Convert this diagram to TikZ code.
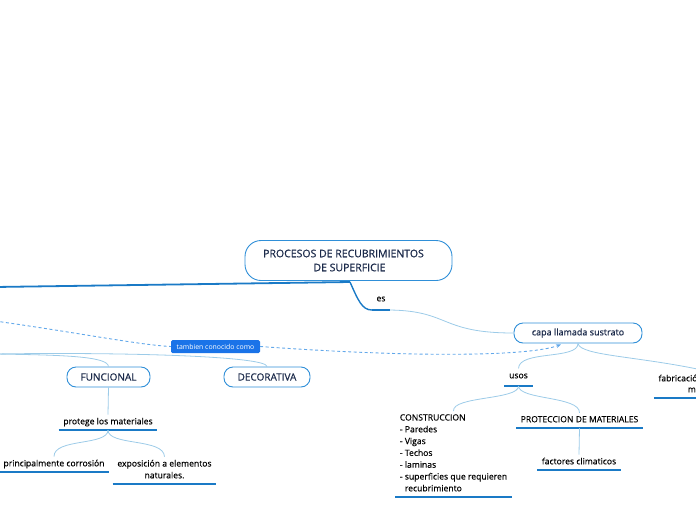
\documentclass[tikz,border=0pt]{standalone}
\usepackage{fontspec}
\setmainfont{Open Sans}
\newfontfamily\semifont[FakeBold=0.6]{Open Sans}
\newfontfamily\labfont[FakeBold=0.25]{Open Sans}
\usetikzlibrary{arrows.meta}
\definecolor{bord}{HTML}{2F8FD8}
\definecolor{conn}{HTML}{9CCBE8}
\definecolor{ulc}{HTML}{1A7AC6}
\definecolor{navy}{HTML}{1B2A4A}
\definecolor{lblue}{HTML}{1A73E8}
\definecolor{dashc}{HTML}{62A8EA}
\tikzset{
  mainbox/.style={draw=bord, line width=0.9pt, rounded corners=9pt, fill=white, text=navy, font=\semifont\fontsize{9}{10}\selectfont, inner sep=0pt, minimum height=20pt},
  upbox/.style={mainbox, font=\semifont\fontsize{10}{11}\selectfont},
  rootbox/.style={draw=bord, line width=0.9pt, rounded corners=16pt, fill=white, text=navy, font=\semifont\fontsize{10.5}{14}\selectfont, align=center, inner sep=0pt, minimum width=207pt, minimum height=40pt},
  plainlab/.style={text=black, font=\labfont\fontsize{8.6}{11.8}\selectfont, inner xsep=4.5pt, inner ysep=3pt, text depth=2.5pt, anchor=south},
  ul/.style={draw=ulc, line width=1.5pt},
  conline/.style={draw=conn, line width=0.8pt},
  thickline/.style={draw=ulc, line width=1.8pt},
  dashline/.style={draw=dashc, line width=0.9pt, dash pattern=on 3pt off 2.5pt},
  tagbox/.style={fill=lblue, text=white, rounded corners=1.5pt, font=\fontsize{6.9}{8}\selectfont, inner xsep=3pt, inner ysep=2pt, minimum height=13pt, minimum width=89pt}
}
\begin{document}
\begin{tikzpicture}[x=1pt,y=-1pt]
\useasboundingbox (0,0) rectangle (696,520);
% root
\coordinate (rj) at (350,282);
\coordinate (lft) at (-5,287);
\draw[thickline] (rj) -- (lft);
\node[rootbox] (root) at (348.5,260.5) {PROCESOS DE RECUBRIMIENTOS\hspace*{10pt}\\\hspace*{2pt}DE SUPERFICIE};
% es
\node[plainlab, inner ysep=6pt] (es) at (381,310) {es};
\draw[ul] (es.south west) -- (es.south east);
\draw[thickline, line width=1.4pt] (rj) .. controls (358,300) and (362,310) .. (es.south west);
% capa
\node[mainbox, minimum width=128pt] (capa) at (578,333) {capa llamada sustrato};
\draw[conline] (es.south east) .. controls (450,311) and (440,333) .. (capa.west);
% usos
\node[plainlab, inner ysep=5pt] (usos) at (518.5,386) {usos};
\draw[ul] (usos.south west) -- (usos.south east);
\draw[conline] (capa.south) .. controls (578,360) and (519,350) .. (usos.north);
% fabricacion
\node[plainlab, align=center, font=\labfont\fontsize{8.6}{11}\selectfont] (fab) at (709,398) {fabricación de elementos\\materiales};
\draw[ul] (fab.south west) -- (fab.south east);
\draw[conline] (capa.south) .. controls (580,356) and (640,356) .. (fab.north);
% construccion
\node[plainlab, align=left] (cons) at (453.5,497) {CONSTRUCCION\\- Paredes\\- Vigas\\- Techos\\- laminas\\- superficies que requieren\\\hspace*{5pt}recubrimiento};
\draw[ul] (cons.south west) -- (cons.south east);
\node[plainlab] (prot) at (579.5,428) {PROTECCION DE MATERIALES};
\draw[ul] (prot.south west) -- (prot.south east);
\draw[conline] (usos.south) .. controls (519,400) and (452,396) .. (cons.north);
\draw[conline] (usos.south) .. controls (519,400) and (580,396) .. (prot.north);
\node[plainlab] (fact) at (579,470) {factores climaticos};
\draw[ul] (fact.south west) -- (fact.south east);
\draw[conline] (prot.south) -- (fact.north);
% dashed relation
\coordinate (dq) at (-5,321);
\node[tagbox] (tag) at (215.5,346.5) {tambien conocido como};
\draw[dashline] (dq) .. controls (80,333) and (140,345) .. (tag.west);
\draw[dashline, -{Stealth[length=5pt,width=4pt]}] (tag.east) .. controls (420,358) and (530,356) .. ([xshift=-17pt,yshift=-1pt]capa.south);
% left branch
\coordinate (lp) at (-5,354);
\node[upbox, minimum width=83pt] (func) at (108.5,377) {FUNCIONAL};
\node[upbox, minimum width=86pt] (deco) at (267,377) {DECORATIVA};
\draw[conline] (lp) .. controls (60,355) and (108,356) .. (func.north);
\draw[conline] (lp) .. controls (120,352) and (267,356) .. (deco.north);
\node[plainlab] (prot2) at (108,430) {protege los materiales};
\draw[ul] (prot2.south west) -- (prot2.south east);
\draw[conline] (func.south) -- (prot2.north);
\node[plainlab] (corr) at (54,472) {principalmente corrosión};
\draw[ul] (corr.south west) -- (corr.south east);
\node[plainlab, align=center] (expo) at (164.5,484) {exposición a elementos\\naturales.};
\draw[ul] (expo.south west) -- (expo.south east);
\draw[conline] (prot2.south) .. controls (108,446) and (54,438) .. (corr.north);
\draw[conline] (prot2.south) .. controls (108,446) and (164,438) .. (expo.north);
\end{tikzpicture}
\end{document}
